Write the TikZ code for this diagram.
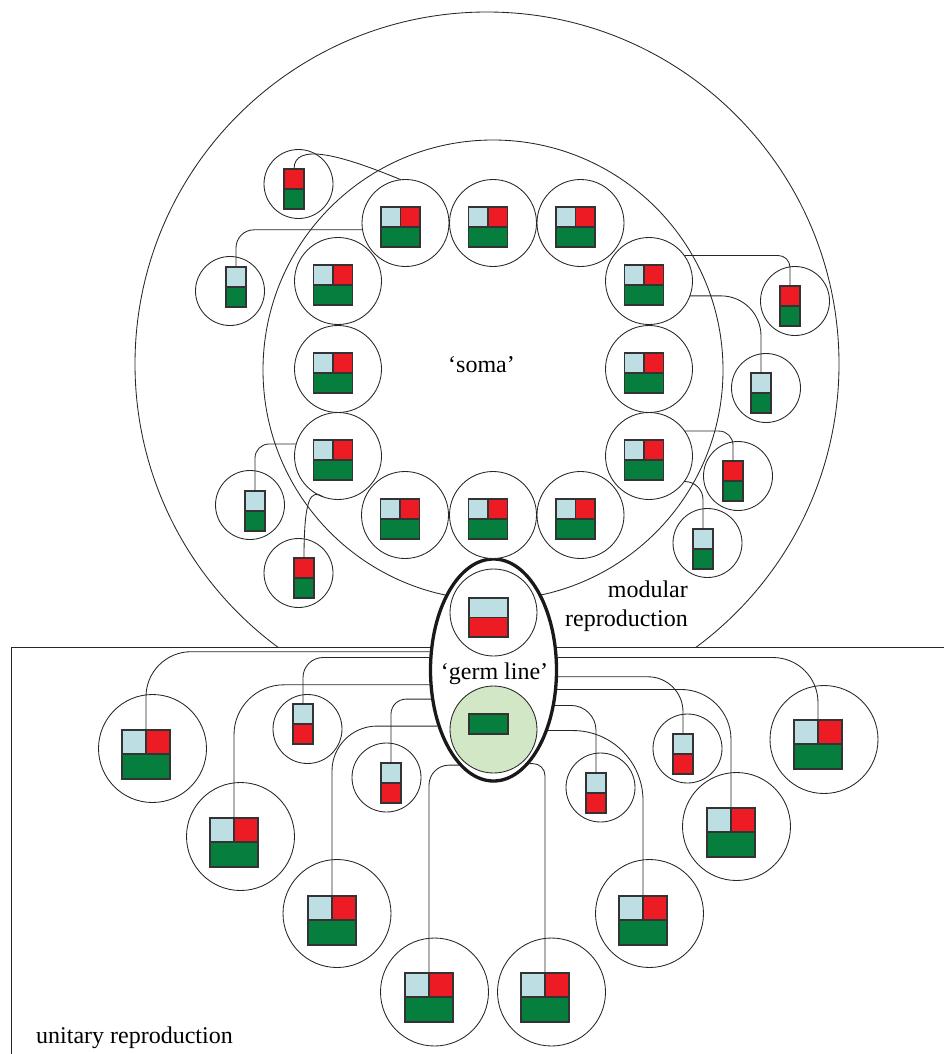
\documentclass[tikz,border=0pt]{standalone}
\usepackage{fontspec}
\setmainfont{Liberation Serif}
\newfontfamily\timesfont{Liberation Serif}
\usetikzlibrary{shapes.geometric}
\definecolor{lblue}{HTML}{BDDFE3}
\definecolor{cred}{HTML}{ED1C24}
\definecolor{cgreen}{HTML}{067F3E}
\definecolor{lgreen}{HTML}{D1E7C5}
\definecolor{edgegray}{HTML}{333333}
\tikzset{
  wire/.style={draw=black!85, line width=0.85pt},
  cellc/.style={circle, draw=black!85, line width=0.85pt, fill=white, inner sep=0pt, outer sep=0pt},
  ringcell/.style={cellc, minimum size=87pt},
  bigcell/.style={cellc, minimum size=108pt},
  satcell/.style={cellc, minimum size=69pt},
  box/.style={draw=edgegray, line width=1.1pt, inner sep=0pt, outer sep=0pt, anchor=north west},
  txt/.style={font=\timesfont\fontsize{24}{28}\selectfont, inner sep=0pt},
  ringicon/.pic={
    \node[box, fill=lblue, minimum width=19.5pt, minimum height=20pt] (-lb) at (0,0) {};
    \node[box, fill=cred, minimum width=19.5pt, minimum height=20pt] (-rd) at (19.5,0) {};
    \node[box, fill=cgreen, minimum width=39pt, minimum height=20pt] (-gr) at (0,20) {};
  },
  bigicon/.pic={
    \node[box, fill=lblue, minimum width=24pt, minimum height=24pt] (-lb) at (0,0) {};
    \node[box, fill=cred, minimum width=24pt, minimum height=24pt] (-rd) at (24,0) {};
    \node[box, fill=cgreen, minimum width=48pt, minimum height=25pt] (-gr) at (0,24) {};
  },
  saticon/.pic={
    \node[box, fill=#1, minimum width=20pt, minimum height=20pt] (-tp) at (0,0) {};
    \node[box, fill=cgreen, minimum width=20pt, minimum height=20pt] (-gr) at (0,20) {};
  },
  lrdicon/.pic={
    \node[box, fill=lblue, minimum width=20pt, minimum height=20pt] (-tp) at (0,0) {};
    \node[box, fill=cred, minimum width=20pt, minimum height=20pt] (-bt) at (0,20) {};
  },
}
\begin{document}
\begin{tikzpicture}[x=1pt,y=-1pt]
\useasboundingbox (0,0) rectangle (943,1054);

% outer circle (modular reproduction), cut by the frame line
\begin{scope}
  \clip (0,0) rectangle (943,647);
  \draw[wire] (487,364) circle[radius=352pt];
\end{scope}
% frame of unitary reproduction
\draw[wire] (11,1060) -- (11,647) -- (950,647);
% soma circle
\draw[wire] (493,370) circle[radius=230pt];

% germ line ellipse
\node[ellipse, draw=black!90, line width=3.3pt, fill=white, minimum width=126pt, minimum height=222pt, inner sep=0pt] (germ) at (493.5,670) {};
\node[ringcell] (gtop) at (493.5,612.5) {};
\pic (icgtop) at (469,598) {code={
  \node[box, fill=lblue, minimum width=39pt, minimum height=19.5pt] (-lb) at (0,0) {};
  \node[box, fill=cred, minimum width=39pt, minimum height=19.5pt] (-rd) at (0,19.5) {};}};
\node[ringcell, fill=lgreen] (gbot) at (493.5,729.5) {};
\node[box, fill=cgreen, minimum width=39pt, minimum height=20pt] (gbar) at (469,714) {};

% soma ring cells
\foreach \n/\cx/\cy in {T1/405.5/223, T2/493/223, T3/580.5/223,
  L1/338/281, L2/338/369, L3/338/456,
  R1/649/281, R2/649/369, R3/649/456,
  B1/405/515, B2/493/515, B3/580.5/515}{
  \node[ringcell] (\n) at (\cx,\cy) {};
  \pic (ic\n) at ({\cx-24.5},{\cy-16}) {ringicon};
}

% satellite cells
\foreach \n/\cx/\cy/\ix/\iy/\col in {S1/298.5/184/284/169/cred, S2/230/291/226/267/lblue,
  S3/795/301/780/286/cred, S4/766/388/751/373/lblue, S5/738/476/723/461/cred,
  S6/707.5/543/693/529/lblue, S7/250/505/245/491/lblue, S8/298.5/573/294/558/cred}{
  \node[satcell] (\n) at (\cx,\cy) {};
  \pic (ic\n) at (\ix,\iy) {saticon=\col};
}

% unitary reproduction: small cells
\foreach \n/\cx/\cy/\ix/\iy in {C/307.5/729/293/704, D/386.5/777.5/381/763,
  G/600.5/787.5/586/773, H/687.5/748.5/673/734}{
  \node[satcell] (\n) at (\cx,\cy) {};
  \pic (ic\n) at (\ix,\iy) {lrdicon};
}

% unitary reproduction: big cells
\foreach \n/\cx/\cy/\ix/\iy in {A/152.5/748.5/122/730, B/240.5/836.5/210/818,
  E/337/913.5/308/896, L/434.5/992/405/973, M/551.5/992/521/973,
  K/649.5/913.5/619/896, I/736.5/826.5/707/808, J/824/739.5/794/720}{
  \node[bigcell] (\n) at (\cx,\cy) {};
  \pic (ic\n) at (\ix,\iy) {bigicon};
}

% texts
\node[txt, anchor=base] (soma) at (481.5,372) {‘soma’};
\node[txt, anchor=base] (germtxt) at (494.5,679) {‘germ line’};
\node[txt, anchor=base east] (modA) at (688,597) {modular};
\node[txt, anchor=base east] (modB) at (688,626) {reproduction};
\node[txt, anchor=base west] (unit) at (36,1043) {unitary reproduction};

% soma to satellite connectors
\draw[wire] (icS1-tp.north) .. controls (294,142) and (341,155) .. (T1.96);
\draw[wire, rounded corners=18pt] (icS2-tp.north) |- (T1.189);
\draw[wire, rounded corners=12pt] (R1.36) -| (icS3-tp.north);
\draw[wire, rounded corners=40pt] (R1.340) -| (icS4-tp.north);
\draw[wire, rounded corners=14pt] (R3.35) -| (icS5-tp.north);
\draw[wire, rounded corners=18pt] (R3.324) -| (icS6-tp.north);
\draw[wire, rounded corners=14pt] (icS7-tp.north) |- (L3.164);
\draw[wire] (icS8-tp.north) .. controls (304,497) and (311,489) .. (L3.250);

% germ line to unitary cells
\draw[wire, rounded corners=45pt] (icA-rd.north west) |- (germ.164);
\draw[wire, rounded corners=20pt] (icC-tp.north) |- (germ.169);
\draw[wire, rounded corners=50pt] (icB-rd.north west) |- (germ.193);
\draw[wire, rounded corners=15pt] (icD-tp.north) |- (germ.205);
\draw[wire, rounded corners=45pt] (icE-rd.north west) |- (germ.225);
\draw[wire, rounded corners=20pt] (icL-rd.north west) |- (germ.250);
\draw[wire, rounded corners=12pt] (icM-rd.north west) |- (germ.291);
\draw[wire, rounded corners=70pt] (icK-rd.north west) |- (germ.312);
\draw[wire, rounded corners=25pt] (icG-tp.north) |- (germ.330);
\draw[wire, rounded corners=50pt] (icI-rd.north west) |- (germ.343);
\draw[wire, rounded corners=35pt] (icH-tp.north) |- (germ.354);
\draw[wire, rounded corners=45pt] (icJ-rd.north west) |- (germ.11);
\end{tikzpicture}
\end{document}
